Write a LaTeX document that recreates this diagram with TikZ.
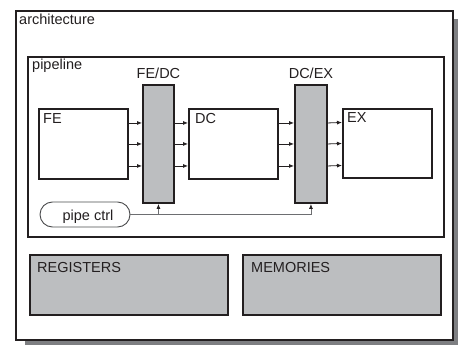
\documentclass[tikz,border=0pt]{standalone}
\usepackage{fontspec}
\setmainfont{Liberation Sans}
\usepackage{tikz}
\usetikzlibrary{arrows.meta,positioning,calc,shapes.misc}
\definecolor{ink}{HTML}{231F20}
\definecolor{regfill}{HTML}{BCBEC0}
\definecolor{shadowgray}{HTML}{7E7F82}
\definecolor{wire}{HTML}{6D6E71}

\begin{document}
\begin{tikzpicture}[x=1pt, y=-1pt,
  font=\fontsize{14.5}{16}\selectfont,
  frame/.style={draw=ink, line width=2pt, fill=white, anchor=north west,
    inner sep=0pt},
  stage/.style={draw=ink, line width=1.9pt, fill=white, anchor=north west,
    inner sep=0pt, minimum width=89pt, minimum height=70pt},
  latch/.style={draw=ink, line width=1.9pt, fill=regfill, anchor=north west,
    inner sep=0pt, minimum width=31pt, minimum height=118pt},
  store/.style={draw=ink, line width=1.9pt, fill=regfill, anchor=north west,
    inner sep=0pt, minimum width=198pt, minimum height=60pt},
  ctlbox/.style={draw=wire!70!black, line width=0.9pt, fill=white,
    rounded rectangle, minimum width=90pt, minimum height=25pt, inner sep=0pt},
  tag/.style={anchor=base west, inner sep=0pt, text=ink},
  sig/.style={-{Latex[length=5pt,width=4pt]}, line width=0.8pt, ink},
  ctl/.style={-{Latex[length=5pt,width=4pt,color=ink]}, line width=0.8pt, wire}
]
\useasboundingbox (0,0) rectangle (458,345);
% drop shadow of the outer frame
\fill[shadowgray] (25,19) rectangle (458,345);

\node[frame, minimum width=437pt, minimum height=329pt] (arch) at (15,10) {};
\node[tag] (archtxt) at ($(arch.north west)+(4,15)$) {architecture};

\node[frame, minimum width=416pt, minimum height=180pt] (pipe) at (27,56) {};
\node[tag] (pipetxt) at ($(pipe.north west)+(5,14)$) {pipeline};

% stages and pipeline registers
\node[stage] (fe) at (38,108) {};
\node[latch] (fedc) at (142,84) {};
\node[stage] (dc) at (188,108) {};
\node[latch, minimum width=32pt] (dcex) at (294,84) {};
\node[stage, minimum height=69pt] (ex) at (342,108) {};

\node[tag] (fetxt) at ($(fe.north west)+(5,16)$) {FE};
\node[tag] (dctxt) at ($(dc.north west)+(7,15)$) {DC};
\node[tag] (extxt) at ($(ex.north west)+(5,14)$) {EX};
\node[anchor=base, inner sep=0pt, text=ink] (fedctxt) at ($(fedc.north)+(0,-5)$) {FE/DC};
\node[anchor=base, inner sep=0pt, text=ink] (dcextxt) at ($(dcex.north)+(0,-5)$) {DC/EX};

\foreach \dy in {-21,0,22} {
  \draw[sig] ($(fe.east)+(0,\dy)$) -- ($(fedc.west)+(0,\dy)$);
  \draw[sig] ($(fedc.east)+(0,\dy)$) -- ($(dc.west)+(0,\dy)$);
  \draw[sig] ($(dc.east)+(0,\dy)$) -- ($(dcex.west)+(0,\dy)$);
  \draw[sig] ($(dcex.east)+(0,\dy)$) -- ($(ex.west)+(0,\dy)$);
}

% pipeline control
\node[ctlbox] (ctrl) at (85,214.5) {};
\node[anchor=base, inner sep=0pt, text=ink] (ctrltxt) at ($(ctrl.center)+(3,5.5)$) {pipe ctrl};
\draw[ctl] (ctrl.east) -| (dcex.south);
\draw[ctl] (fedc.south |- ctrl.east) -- (fedc.south);

% storage
\node[store] (regs) at (29,254) {};
\node[store] (mems) at (242,254) {};
\node[tag] (regstxt) at ($(regs.north west)+(8,18)$) {REGISTERS};
\node[tag] (memstxt) at ($(mems.north west)+(9,18)$) {MEMORIES};
\end{tikzpicture}
\end{document}
